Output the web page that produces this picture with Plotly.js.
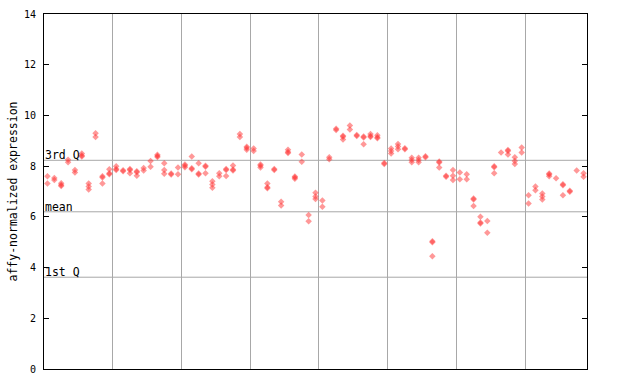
<!DOCTYPE html>
<html>
<head>
<meta charset="utf-8">
<script src="https://cdn.plot.ly/plotly-3.0.1.min.js"></script>
<style>html,body{margin:0;padding:0;background:#fff;}#chart{width:640px;height:384px;}</style>
</head>
<body>
<div id="chart"></div>
<script>
// replicate expression values per sample (null = no replicate)
const rep1 = [7.6,7.45,7.22,8.15,7.75,8.38,7.08,9.15,7.55,7.68,
  7.85,7.8,7.85,7.76,7.83,8.2,8.36,8.11,7.67,7.95,
  8.02,8.38,8.11,7.98,7.15,7.6,7.85,7.83,9.15,8.65,
  8.6,8.02,7.32,7.85,6.45,8.52,7.55,8.46,6.07,6.95,
  6.65,8.27,9.43,9.16,9.6,9.19,9.13,9.15,9.1,8.08,
  8.7,8.87,8.67,8.33,8.33,8.35,5.0,8.14,7.58,7.85,
  7.75,7.68,6.68,6.0,5.84,7.96,8.54,8.6,8.35,8.74,
  6.85,7.2,6.92,7.67,7.52,7.25,6.99,7.83,7.72];
const rep2 = [7.32,7.53,7.26,8.25,7.85,8.42,7.2,9.3,7.6,7.72,
  7.89,7.84,7.89,7.8,7.93,7.98,8.4,7.85,7.71,7.68,
  8.06,7.88,7.67,8.02,7.28,7.72,7.89,7.87,9.27,8.72,
  8.7,8.06,7.13,7.89,6.6,8.56,7.59,8.17,5.83,6.8,
  6.4,8.35,9.47,9.2,9.45,9.23,9.17,9.19,9.14,8.12,
  8.5,8.67,8.71,8.15,8.15,8.39,5.04,8.18,7.62,7.62,
  7.48,7.48,6.72,5.74,5.37,8.0,null,8.64,8.2,8.54,
  6.53,7.05,6.8,7.71,null,7.29,7.03,null,7.58];
const rep3 = [null,null,7.33,null,null,8.5,7.32,null,7.32,7.88,
  8.0,null,7.72,7.62,null,null,8.45,7.7,null,null,
  7.96,7.92,7.71,7.72,7.4,null,7.61,8.03,null,8.76,
  null,7.95,7.17,null,null,8.65,7.5,null,null,6.7,
  null,null,null,9.05,null,null,8.86,9.27,9.22,null,
  8.6,8.77,null,8.24,8.24,null,4.45,7.95,null,7.45,
  null,null,6.43,5.78,null,7.72,null,8.46,8.08,null,
  null,null,6.68,7.6,null,6.85,null,null,null];
const refNames = ["3rd Q", "mean", "1st Q"];
const refValues = [8.23, 6.2, 3.62];
const yTicks = [0, 2, 4, 6, 8, 10, 12, 14];
const groupBoundaries = [10.5, 20.5, 30.5, 40.5, 50.5, 60.5, 70.5];

const sampleIdx = rep1.map((_, i) => i + 1);
const mono = "DejaVu Sans Mono, monospace";
const red = "rgba(255,50,50,0.5)";

const traces = [rep1, rep2, rep3].map(rep => ({
  type: "scatter", mode: "markers",
  x: sampleIdx, y: rep,
  marker: {symbol: "diamond", size: 5, color: red, line: {width: 0}},
  hoverinfo: "y", showlegend: false
}));

const shapes = refValues.map(v => ({
  type: "line", xref: "paper", x0: 0, x1: 1, yref: "y", y0: v, y1: v,
  line: {color: "#a8a8a8", width: 1}, layer: "below"
}));
const annotations = refValues.map((v, i) => ({
  xref: "paper", x: 0, xanchor: "left", yref: "y", y: v, yanchor: "bottom",
  text: refNames[i], showarrow: false, font: {family: mono, size: 11.5, color: "#000"},
  xshift: -1, yshift: -4
}));

const layout = {
  width: 640, height: 384,
  margin: {l: 44, r: 53, t: 14, b: 15},
  paper_bgcolor: "#fff", plot_bgcolor: "#fff",
  showlegend: false,
  xaxis: {range: [0.5, 79.5], tickvals: groupBoundaries, showticklabels: false, ticks: "",
    showgrid: true, gridcolor: "#a8a8a8", gridwidth: 1, zeroline: false,
    showline: true, linecolor: "#000", linewidth: 1, mirror: true},
  yaxis: {range: [0, 14], tickvals: yTicks, ticks: "inside", ticklen: 5, tickcolor: "#000",
    showgrid: false, zeroline: false, showline: true, linecolor: "#000", linewidth: 1,
    mirror: "ticks", tickfont: {family: mono, size: 10, color: "#000"},
    ticklabelstandoff: 5,
    title: {text: "affy-normalized expression", font: {family: mono, size: 11.5, color: "#000"}, standoff: 3}},
  shapes: shapes, annotations: annotations,
  font: {family: mono, color: "#000"}
};
Plotly.newPlot("chart", traces, layout, {staticPlot: true, displayModeBar: false});
</script>
</body>
</html>
